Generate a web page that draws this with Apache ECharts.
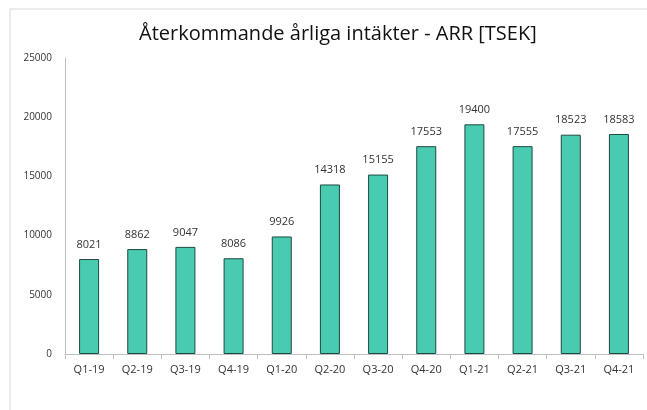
<!DOCTYPE html>
<html lang="sv">
<head>
<meta charset="UTF-8">
<title>ARR</title>
<script src="https://cdn.jsdelivr.net/npm/echarts@6/dist/echarts.min.js"></script>
<style>
  html, body { margin: 0; padding: 0; background: #fff; }
  #chart { width: 647px; height: 410px; }
</style>
</head>
<body>
<div id="chart"></div>
<script>
// data
const quarters = ['Q1-19', 'Q2-19', 'Q3-19', 'Q4-19', 'Q1-20', 'Q2-20', 'Q3-20', 'Q4-20', 'Q1-21', 'Q2-21', 'Q3-21', 'Q4-21'];
const arrValues = [8021, 8862, 9047, 8086, 9926, 14318, 15155, 17553, 19400, 17555, 18523, 18583];

const chart = echarts.init(document.getElementById('chart'));

chart.setOption({
  animation: false,
  title: {
    text: 'Återkommande årliga intäkter - ARR [TSEK]',
    left: 134,
    top: 19,
    textStyle: { fontFamily: 'Open Sans', fontWeight: 'normal', fontSize: 20, color: '#111' }
  },
  graphic: [{
    type: 'rect',
    shape: { x: 10, y: 9, width: 660, height: 430 },
    style: { fill: 'none', stroke: '#d9d9d9', lineWidth: 1 }
  }],
  grid: { left: 65, right: 4, top: 58, bottom: 56 },
  xAxis: {
    type: 'category',
    data: quarters,
    axisLine: { lineStyle: { color: '#bfbfbf' } },
    axisTick: { show: true, length: 5, lineStyle: { color: '#bfbfbf' } },
    axisLabel: { color: '#333', fontSize: 11, fontFamily: 'Open Sans', margin: 10 }
  },
  yAxis: {
    type: 'value',
    min: 0,
    max: 25000,
    interval: 5000,
    splitLine: { show: false },
    axisLine: { show: true, lineStyle: { color: '#bfbfbf' } },
    axisTick: { show: false },
    axisLabel: {
      color: '#333', fontSize: 10, fontFamily: 'Open Sans', margin: 13,
      formatter: function (v) { return String(v); }
    }
  },
  series: [{
    type: 'bar',
    data: arrValues,
    barWidth: 20,
    itemStyle: { color: '#48cbb0', borderColor: '#1d4a40', borderWidth: 1 },
    label: {
      show: true,
      position: 'top',
      distance: 9,
      color: '#333',
      fontSize: 11,
      fontFamily: 'Open Sans'
    }
  }]
});
</script>
</body>
</html>
